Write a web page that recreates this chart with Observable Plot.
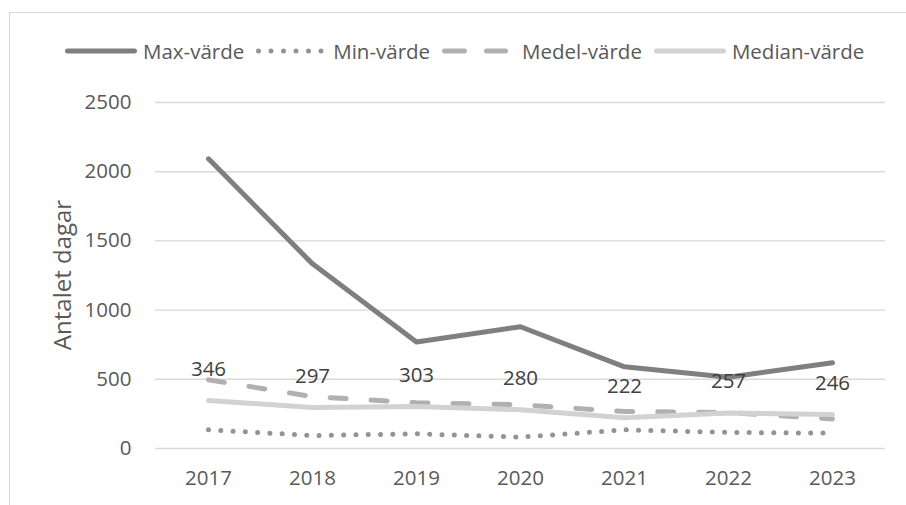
<!DOCTYPE html>
<html>
<head>
<meta charset="utf-8">
<script src="https://cdn.jsdelivr.net/npm/d3@7"></script>
<script src="https://cdn.jsdelivr.net/npm/@observablehq/plot@0.6"></script>
<style>
  html, body { margin: 0; padding: 0; background: #fff; overflow: hidden; }
  #wrap { position: relative; width: 906px; height: 505px; overflow: hidden; font-family: "Open Sans", sans-serif; }
  #frame { position: absolute; left: 9px; top: 12px; width: 920px; height: 520px; border: 1.5px solid #d9d9d9; box-sizing: border-box; pointer-events: none; }
  #legend { position: absolute; left: 65px; top: 36px; height: 30px; display: flex; align-items: center; font-size: 20.5px; color: #595959; white-space: nowrap; }
  #legend svg { display: block; }
  #chart { position: absolute; left: 0; top: 0; }
  #ytitle { position: absolute; left: 62px; top: 275px; transform: translate(-50%, -50%) rotate(-90deg); font-size: 24px; color: #595959; white-space: nowrap; line-height: 1; }
</style>
</head>
<body>
<div id="wrap">
  <div id="frame"></div>
  <div id="chart"></div>
  <div id="legend"></div>
  <div id="ytitle"></div>
</div>
<script>
// ---- data ----
const years = ["2017", "2018", "2019", "2020", "2021", "2022", "2023"];
const maxValues = [2093, 1334, 770, 880, 590, 515, 619];
const minValues = [135, 94, 106, 82, 135, 116, 111];
const meanValues = [496, 375, 330, 316, 267, 260, 214];
const medianValues = [346, 297, 303, 280, 222, 257, 246];
const seriesNames = ["Max-värde", "Min-värde", "Medel-värde", "Median-värde"];
const yTicks = [0, 500, 1000, 1500, 2000, 2500];
const yTitle = "Antalet dagar";

// ---- styles ----
const styles = {
  "Max-värde":    {stroke: "#7f7f7f", strokeWidth: 5, strokeDasharray: null},
  "Min-värde":    {stroke: "#939393", strokeWidth: 5, strokeDasharray: "0,12.3"},
  "Medel-värde":  {stroke: "#b0b0b0", strokeWidth: 5, strokeDasharray: "16,25"},
  "Median-värde": {stroke: "#d2d2d2", strokeWidth: 5, strokeDasharray: null}
};

const seriesValues = [maxValues, minValues, meanValues, medianValues];
const rows = years.map((yr, i) => ({year: yr, median: medianValues[i]}));

const lineMarks = seriesNames.map((name, s) => {
  const data = years.map((yr, i) => ({year: yr, value: seriesValues[s][i]}));
  const st = styles[name];
  const opts = {x: "year", y: "value", stroke: st.stroke, strokeWidth: st.strokeWidth,
                strokeLinecap: "round", strokeLinejoin: "round", curve: "linear"};
  if (st.strokeDasharray) opts.strokeDasharray = st.strokeDasharray;
  return Plot.line(data, opts);
});

const chart = Plot.plot({
  width: 906,
  height: 505,
  marginLeft: 155,
  marginRight: 21,
  marginTop: 102,
  marginBottom: 57,
  style: {fontFamily: "'Open Sans', sans-serif", fontSize: "20.5px", color: "#595959", background: "transparent"},
  x: {type: "point", domain: years, padding: 0.5, label: null},
  y: {domain: [0, 2500], label: null},
  marks: [
    Plot.gridY(yTicks, {stroke: "#d9d9d9", strokeOpacity: 1, strokeWidth: 1.4}),
    Plot.axisY(yTicks, {tickSize: 0, tickPadding: 24, label: null, fontSize: 20.5, fill: "#595959", tickFormat: d => String(d)}),
    Plot.axisX({tickSize: 0, tickPadding: 22, label: null, fontSize: 20.5, fill: "#595959"}),
    ...lineMarks,
    Plot.text(rows, {x: "year", y: "median", text: d => String(d.median), dy: -31,
                     fill: "#404040", fontSize: 20.5})
  ]
});
document.getElementById("chart").appendChild(chart);
document.getElementById("ytitle").textContent = yTitle;

// ---- legend ----
const legend = document.getElementById("legend");
const swatchW = {"Max-värde": 72, "Min-värde": 68, "Medel-värde": 66, "Median-värde": 72};
const legendDash = {"Min-värde": "0,12.5", "Medel-värde": "20,22"};
const gapsBefore = [0, 12, 12, 12];
const gapsAfter = [6, 9, 14, 6];
seriesNames.forEach((name, i) => {
  const st = styles[name];
  const w = swatchW[name];
  const ns = "http://www.w3.org/2000/svg";
  const svg = document.createElementNS(ns, "svg");
  svg.setAttribute("width", w);
  svg.setAttribute("height", 12);
  svg.style.marginLeft = gapsBefore[i] + "px";
  svg.style.marginRight = gapsAfter[i] + "px";
  const ln = document.createElementNS(ns, "line");
  ln.setAttribute("x1", 2.5); ln.setAttribute("x2", w - 2.5);
  ln.setAttribute("y1", 6); ln.setAttribute("y2", 6);
  ln.setAttribute("stroke", st.stroke);
  ln.setAttribute("stroke-width", 5);
  ln.setAttribute("stroke-linecap", "round");
  if (legendDash[name]) ln.setAttribute("stroke-dasharray", legendDash[name]);
  svg.appendChild(ln);
  legend.appendChild(svg);
  const span = document.createElement("span");
  span.textContent = name;
  legend.appendChild(span);
});
</script>
</body>
</html>
